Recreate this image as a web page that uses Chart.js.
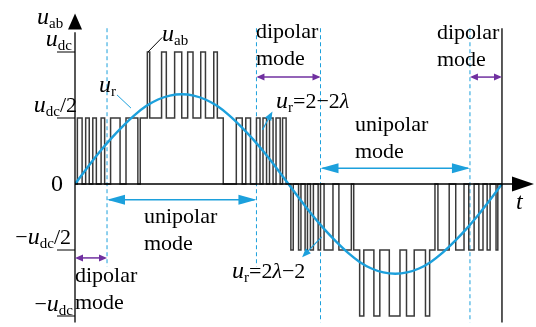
<!DOCTYPE html>
<html>
<head>
<meta charset="utf-8">
<script src="https://cdn.jsdelivr.net/npm/chart.js@4.4.1/dist/chart.umd.min.js"></script>
<style>
  html, body { margin: 0; padding: 0; background: #fff; }
  #wrap { width: 536px; height: 327px; }
</style>
</head>
<body>
<div id="wrap"><canvas id="uab" width="536" height="327"></canvas></div>
<script>
// switching instants of u_ab over one period (electrical degrees)
const uabEdges = [
  0, 2, 6, 9, 12, 15, 18, 22, 25, 30, 38, 43, 53, 55,
  61, 63, 73, 77, 84, 90, 95, 99.5, 106, 110, 117, 120, 125,
  136, 141, 144, 148, 153, 156, 158.5, 161.5, 164, 167, 169.5, 173, 175, 178,
  182, 184, 188.5, 190.5, 194, 196, 198.5, 201, 205, 207, 210, 217.5, 222.5, 233, 235,
  240, 243.5, 252, 257, 265, 274, 279.5, 286, 295.5, 299, 303.5,
  306, 315.5, 321, 328, 332, 336.5, 340.5, 344, 347.5, 350, 355, 356.5, 360
];
// level held from each instant to the next, in units of u_dc/2
const uabLevels = [
  0, 1, 0, 1, 0, 1, 0, 1, 0, 1, 0, 1, 0, 1,
  2, 1, 2, 1, 2, 1, 2, 1, 2, 1, 2, 1, 0,
  1, 0, 1, 0, 1, 0, 1, 0, 1, 0, 1, 0, 1, 0,
  -1, 0, -1, 0, -1, 0, -1, 0, -1, 0, -1, 0, -1, 0, -1,
  -2, -1, -2, -1, -2, -1, -2, -1, -2, -1, 0,
  -1, 0, -1, 0, -1, 0, -1, 0, -1, 0, -1, 0, 0
];

// reference u_r (units of u_dc/2)
const urAngles = [0, 10, 20, 30, 40, 50, 60, 70, 80, 90, 100, 110, 120, 130, 140, 150, 160, 170, 180,
  190, 200, 210, 220, 230, 240, 250, 260, 270, 280, 290, 300, 310, 320, 330, 340, 350, 360];
const urValues = [0, 0.24, 0.47, 0.68, 0.87, 1.04, 1.18, 1.28, 1.34, 1.36, 1.34, 1.28, 1.18, 1.04, 0.87, 0.68, 0.47, 0.24, 0,
  -0.24, -0.47, -0.68, -0.87, -1.04, -1.18, -1.28, -1.34, -1.36, -1.34, -1.28, -1.18, -1.04, -0.87, -0.68, -0.47, -0.24, 0];

// unipolar / dipolar boundaries
const modeBounds = [27, 153, 207, 333];
const dipolarSpans = [[0, 27], [153, 207], [333, 360]];
const unipolarSpans = [[27, 153], [207, 333]];
const levelTicks = [2, 1, -1, -2];

const BLUE = "#1ca0dc";
const PURPLE = "#7030a0";
const SERIF = "'Liberation Serif', 'DejaVu Serif', serif";
const IT = `italic 24px ${SERIF}`;
const RM = `22px ${SERIF}`;
const SB = `15px ${SERIF}`;
const LAM = `italic 22px ${SERIF}`;

const wavePts = uabEdges.map((x, i) => ({ x, y: uabLevels[i] }));
const refPts = urAngles.map((x, i) => ({ x, y: urValues[i] }));

// dashed boundary lines; the outer pair runs down to the bottom
const boundSets = modeBounds.map((x, i) => ({
  data: [{ x, y: 2.36 }, { x, y: i < 2 ? -1.25 : -2.1 }],
  borderColor: BLUE,
  borderWidth: 1,
  borderDash: [4, 3],
  pointRadius: 0,
  fill: false,
}));

function head(ctx, x, y, dx, dy, len, half) {
  ctx.beginPath();
  ctx.moveTo(x, y);
  ctx.lineTo(x - dx * len - dy * half, y - dy * len + dx * half);
  ctx.lineTo(x - dx * len + dy * half, y - dy * len - dx * half);
  ctx.closePath();
  ctx.fill();
}

function span(ctx, x1, x2, y, color, len, half, lw) {
  ctx.strokeStyle = color;
  ctx.fillStyle = color;
  ctx.lineWidth = lw;
  ctx.beginPath();
  ctx.moveTo(x1 + 2, y);
  ctx.lineTo(x2 - 2, y);
  ctx.stroke();
  head(ctx, x1, y, -1, 0, len, half);
  head(ctx, x2, y, 1, 0, len, half);
}

function pointer(ctx, x1, y1, x2, y2) {
  const d = Math.hypot(x2 - x1, y2 - y1);
  const dx = (x2 - x1) / d, dy = (y2 - y1) / d;
  ctx.strokeStyle = BLUE;
  ctx.fillStyle = BLUE;
  ctx.lineWidth = 1.2;
  ctx.beginPath();
  ctx.moveTo(x1, y1);
  ctx.lineTo(x2 - dx * 6, y2 - dy * 6);
  ctx.stroke();
  head(ctx, x2, y2, dx, dy, 9, 3.5);
}

// text made of runs with their own font and baseline shift
function rich(ctx, x, y, parts, align) {
  let w = 0;
  for (const [t, f] of parts) { ctx.font = f; w += ctx.measureText(t).width; }
  if (align === "right") x -= w;
  for (const [t, f, dy] of parts) {
    ctx.font = f;
    ctx.fillText(t, x, y + (dy || 0));
    x += ctx.measureText(t).width;
  }
}

const decor = {
  id: "decor",
  afterDatasetsDraw(chart) {
    const ctx = chart.ctx;
    const xs = chart.scales.x, ys = chart.scales.y;
    const px = (v) => xs.getPixelForValue(v);
    const py = (v) => ys.getPixelForValue(v);
    const x0 = px(0), y0 = py(0);
    ctx.save();

    // axes with arrows
    ctx.strokeStyle = "#000";
    ctx.fillStyle = "#000";
    ctx.lineWidth = 1.3;
    ctx.beginPath();
    ctx.moveTo(x0, py(-2.1));
    ctx.lineTo(x0, py(2.3));
    ctx.moveTo(x0, y0);
    ctx.lineTo(px(370), y0);
    ctx.stroke();
    head(ctx, x0, py(2.6) + 1, 0, -1, 16, 7);
    head(ctx, px(387), y0, 1, 0, 22, 7.5);

    // end of period
    ctx.beginPath();
    ctx.moveTo(px(360), py(2.36));
    ctx.lineTo(px(360), py(-2.1));
    ctx.stroke();

    // level ticks
    ctx.lineWidth = 1;
    ctx.beginPath();
    for (const v of levelTicks) {
      ctx.moveTo(x0 - 18, py(v));
      ctx.lineTo(x0, py(v));
    }
    ctx.stroke();

    // mode ranges
    const dipY = [py(-1.12), py(1.62), py(1.62)];
    dipolarSpans.forEach(([a, b], i) => span(ctx, px(a), px(b), dipY[i], PURPLE, 8, 3.5, 1.5));
    const uniY = [py(-0.24), py(0.24)];
    unipolarSpans.forEach(([a, b], i) => span(ctx, px(a), px(b), uniY[i], BLUE, 18, 5, 1.5));

    // pointers to the boundary crossings
    pointer(ctx, px(158), py(0.82), px(166.5), py(1.1));
    pointer(ctx, px(208), py(-0.8), px(191.5), py(-1.11));

    // leader lines
    ctx.lineWidth = 1;
    ctx.strokeStyle = "#000";
    ctx.beginPath();
    ctx.moveTo(px(61.5), py(2));
    ctx.lineTo(px(73.5), py(2.22));
    ctx.stroke();
    ctx.strokeStyle = BLUE;
    ctx.beginPath();
    ctx.moveTo(px(35.4), py(1.35));
    ctx.lineTo(px(47.2), py(1.15));
    ctx.stroke();

    // labels
    ctx.fillStyle = "#000";
    ctx.textBaseline = "alphabetic";
    rich(ctx, 37, 24, [["u", IT], ["ab", SB, 4]]);
    rich(ctx, 72, 46, [["u", IT], ["dc", SB, 4]], "right");
    rich(ctx, 77, 112, [["u", IT], ["dc", SB, 4], ["/2", RM]], "right");
    rich(ctx, 63, 191, [["0", `24px ${SERIF}`]], "right");
    rich(ctx, 71, 244, [["\u2212", RM], ["u", IT], ["dc", SB, 4], ["/2", RM]], "right");
    rich(ctx, 73, 311, [["\u2212", RM], ["u", IT], ["dc", SB, 4]], "right");
    rich(ctx, 516, 209, [["t", IT]]);

    rich(ctx, 162, 41, [["u", IT], ["ab", SB, 4]]);
    rich(ctx, 99, 92, [["u", IT], ["r", SB, 4]]);
    rich(ctx, 276, 108, [["u", IT], ["r", SB, 4], ["=2\u22122", RM], ["\u03bb", LAM]]);
    rich(ctx, 232, 278, [["u", IT], ["r", SB, 4], ["=2", RM], ["\u03bb", LAM], ["\u22122", RM]]);

    ctx.font = RM;
    ctx.fillText("dipolar", 256, 38);
    ctx.fillText("mode", 256, 65);
    ctx.fillText("dipolar", 437, 39);
    ctx.fillText("mode", 437, 66);
    ctx.fillText("dipolar", 75, 282);
    ctx.fillText("mode", 75, 309);
    ctx.fillText("unipolar", 355, 131);
    ctx.fillText("mode", 355, 158);
    ctx.fillText("unipolar", 144, 223);
    ctx.fillText("mode", 144, 250);

    ctx.restore();
  },
};

new Chart(document.getElementById("uab"), {
  type: "line",
  data: {
    datasets: [
      {
        label: "u_r",
        data: refPts,
        borderColor: BLUE,
        borderWidth: 2.4,
        pointRadius: 0,
        cubicInterpolationMode: "monotone",
        fill: false,
      },
      {
        label: "u_ab",
        data: wavePts,
        borderColor: "#3a3a3a",
        borderWidth: 1.5,
        pointRadius: 0,
        stepped: true,
        fill: false,
      },
      ...boundSets,
    ],
  },
  options: {
    responsive: false,
    animation: false,
    devicePixelRatio: 1,
    layout: { padding: { left: 75, right: 2, top: 12.4, bottom: 4.4 } },
    plugins: { legend: { display: false }, tooltip: { enabled: false } },
    scales: {
      x: { type: "linear", min: 0, max: 387, display: false },
      y: { type: "linear", min: -2.1, max: 2.6, display: false },
    },
  },
  plugins: [decor],
});
</script>
</body>
</html>
